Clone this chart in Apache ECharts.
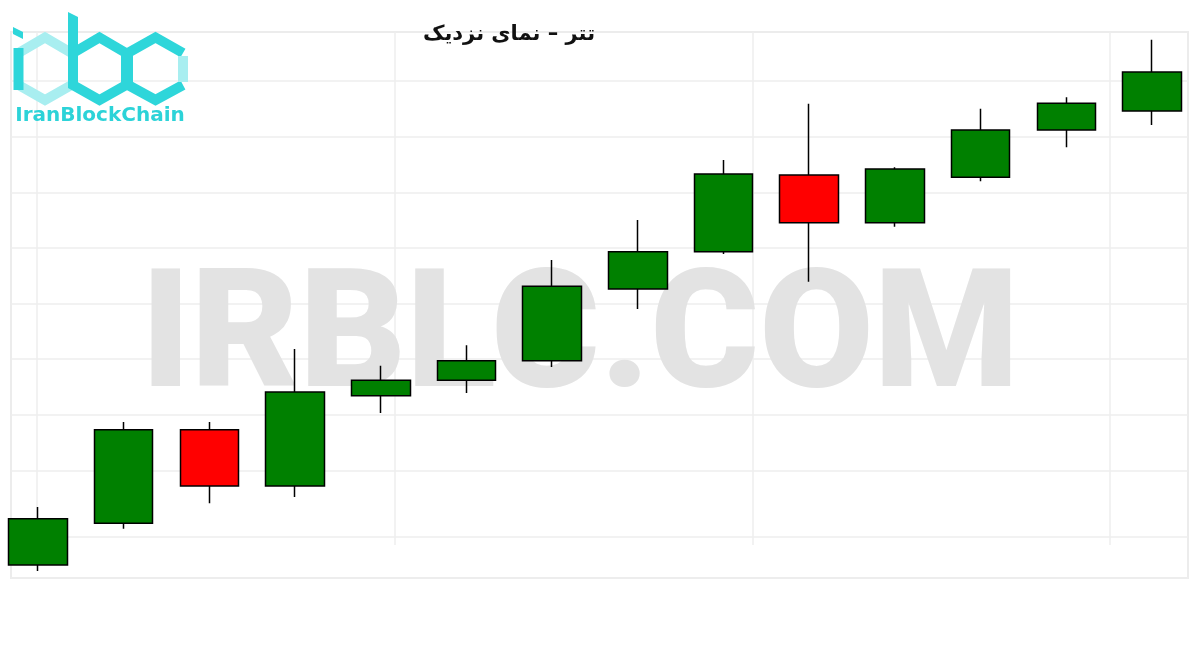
<!DOCTYPE html>
<html>
<head>
<meta charset="utf-8">
<script src="https://cdn.jsdelivr.net/npm/echarts@6/dist/echarts.min.js"></script>
<style>html,body{margin:0;padding:0;background:#fff;}#main{width:1200px;height:650px;}</style>
</head>
<body>
<div id="main"></div>
<script>
// ---- data ----
const categories = ['1','2','3','4','5','6','7','8','9','10','11','12','13','14'];
const openValues  = [58130, 58205, 58373, 58272, 58434, 58462, 58497, 58626, 58693, 58831, 58745, 58827, 58912, 58946];
const closeValues = [58213, 58373, 58272, 58441, 58462, 58497, 58631, 58693, 58833, 58745, 58842, 58912, 58960, 59016];
const lowValues   = [58119, 58195, 58241, 58252, 58403, 58439, 58486, 58590, 58689, 58639, 58738, 58820, 58881, 58921];
const highValues  = [58234, 58387, 58387, 58518, 58488, 58525, 58678, 58750, 58858, 58959, 58845, 58950, 58971, 59074];
const yMin = 58200, yMax = 59000, yStep = 100;
const titleText = 'تتر – نمای نزدیک';
const watermarkText = 'IRBLC.COM';
const logoText = 'IranBlockChain';

const candleData = categories.map((c, i) => ({ value: [openValues[i], closeValues[i], lowValues[i], highValues[i]] }));

const dark = '#2ed6da', light = '#a8eef0';
function hexPts(cx, w) {
  return { top: [cx, 37.5], ur: [cx + w, 53], lr: [cx + w, 85], bot: [cx, 100], ll: [cx - w, 85], ul: [cx - w, 53] };
}
const hi = hexPts(45, 26.5), hb = hexPts(99.5, 26.5), hc = hexPts(155.5, 27.5);
const lineStyle = (color) => ({ stroke: color, lineWidth: 10, fill: null, lineJoin: 'miter' });
const gridLine = { show: true, lineStyle: { color: '#eeeeee', width: 1.5 } };
const noAxis = { axisLine: { show: false }, axisTick: { show: false }, axisLabel: { show: false } };

const chart = echarts.init(document.getElementById('main'), null, { renderer: 'canvas' });
chart.setOption({
  animation: false,
  backgroundColor: '#ffffff',
  title: {
    text: titleText,
    left: 504, top: 19, textAlign: 'center',
    textStyle: { fontSize: 21, fontWeight: 'bold', color: '#111', fontFamily: '"DejaVu Sans", sans-serif' }
  },
  grid: [
    { left: 38, right: 48, top: 81, bottom: 124 },
    { left: 11, right: 12, top: 81, bottom: 179.6 },
    { left: 11, right: 12, top: 32, bottom: 72, show: true, borderColor: '#ececec', borderWidth: 2, backgroundColor: 'transparent' },
    { left: 37, right: 90, top: 32, bottom: 105 },
    { left: 11, right: 12, top: 537, bottom: 72 }
  ],
  xAxis: [
    Object.assign({ type: 'category', gridIndex: 0, data: categories, boundaryGap: false, splitLine: { show: false } }, noAxis),
    { type: 'value', gridIndex: 1, min: 0, max: 1, show: false },
    { type: 'value', gridIndex: 2, min: 0, max: 1, show: false },
    Object.assign({ type: 'value', gridIndex: 3, min: 0, max: 3, interval: 1, splitLine: gridLine }, noAxis),
    { type: 'value', gridIndex: 4, min: 0, max: 1, show: false }
  ],
  yAxis: [
    Object.assign({ type: 'value', gridIndex: 0, min: yMin, max: yMax, interval: yStep, splitLine: { show: false } }, noAxis),
    Object.assign({ type: 'value', gridIndex: 1, min: yMin + yStep, max: yMax, interval: yStep, splitLine: gridLine }, noAxis),
    { type: 'value', gridIndex: 2, min: 0, max: 1, show: false },
    { type: 'value', gridIndex: 3, min: 0, max: 1, show: false },
    Object.assign({ type: 'value', gridIndex: 4, min: 0, max: 1, interval: 1, splitLine: gridLine }, noAxis)
  ],
  graphic: [
    { type: 'text', z: 1, x: 580, y: 344,
      style: { text: watermarkText, fill: '#e3e3e3', font: '900 166px Roboto, "DejaVu Sans", sans-serif', textAlign: 'center', textVerticalAlign: 'middle' } },
    // logo
    { type: 'polygon', z: 5, shape: { points: [[13, 27], [23, 32], [23, 39], [13, 34]] }, style: { fill: dark } },
    { type: 'polyline', z: 5, shape: { points: [hi.ul, hi.top, hi.ur] }, style: lineStyle(light) },
    { type: 'polyline', z: 5, shape: { points: [hi.ll, hi.bot, hi.lr] }, style: lineStyle(light) },
    { type: 'polyline', z: 5, shape: { points: [[hi.ul[0], 48], [hi.ll[0], 90]] }, style: lineStyle(dark) },
    { type: 'polygon', z: 5, shape: { points: [[68, 12], [78, 17], [78, 53], [68, 53]] }, style: { fill: dark } },
    { type: 'polygon', z: 5, shape: { points: [hb.top, hb.ur, hb.lr, hb.bot, hb.ll, hb.ul] }, style: lineStyle(dark) },
    { type: 'polyline', z: 5, shape: { points: [hc.ur, hc.top, hc.ul, hc.ll, hc.bot, hc.lr] }, style: lineStyle(dark) },
    { type: 'polyline', z: 5, shape: { points: [[hc.ur[0], 56], [hc.lr[0], 82]] }, style: lineStyle(light) },
    { type: 'text', z: 5, x: 100, y: 116,
      style: { text: logoText, fill: '#2cd3d8', font: 'bold 20px "DejaVu Sans", sans-serif', textAlign: 'center', textVerticalAlign: 'middle' } }
  ],
  series: [{
    type: 'candlestick',
    xAxisIndex: 0, yAxisIndex: 0,
    data: candleData,
    barWidth: 59,
    clip: false,
    z: 3,
    itemStyle: {
      color: '#008000', color0: '#ff0000',
      borderColor: '#000000', borderColor0: '#000000', borderWidth: 1.5
    }
  }]
});
</script>
</body>
</html>
